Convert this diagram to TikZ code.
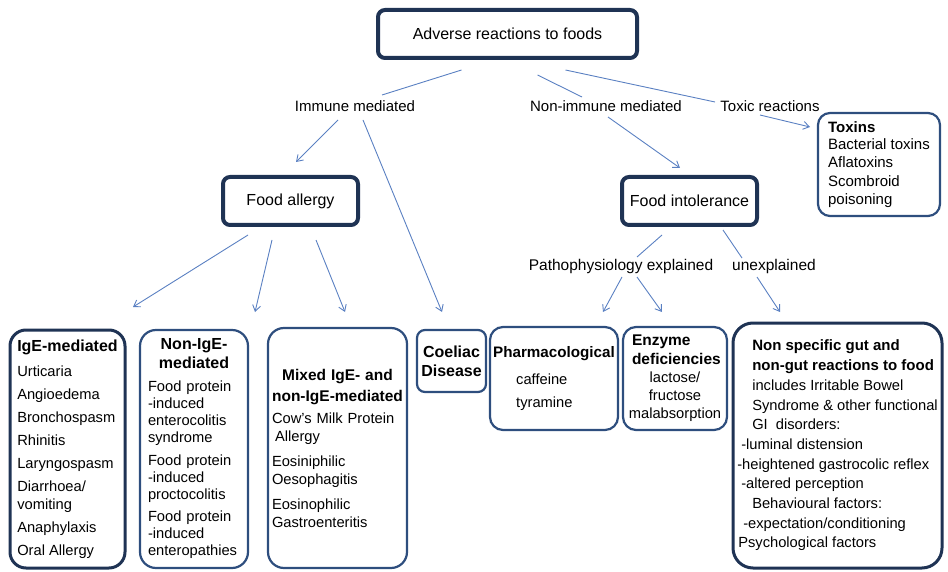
\documentclass[tikz,border=0pt]{standalone}
\usepackage{fontspec}
\setmainfont{Liberation Sans}
\usepackage{tikz}
\usetikzlibrary{arrows.meta, calc}

\definecolor{navyline}{HTML}{1F3354}
\definecolor{boxline}{HTML}{2E4E7E}
\definecolor{arrowblue}{HTML}{5A80C2}

\newcommand{\bodysize}{\fontsize{14.7}{18}\selectfont}
\newcommand{\headsize}{\fontsize{16}{19}\selectfont\bfseries}
\hyphenpenalty=10000
\exhyphenpenalty=10000

\begin{document}
\begin{tikzpicture}[
    x=1pt, y=-1pt,
    mainbox/.style = {draw=navyline, line width=4pt, rounded corners=7pt,
                      inner sep=0pt, font=\fontsize{16}{19}\selectfont},
    catbox/.style  = {draw=boxline, line width=2.2pt, rounded corners=16pt,
                      inner sep=0pt, align=left, font=\bodysize},
    darkbox/.style = {catbox, draw=navyline, line width=3pt},
    branch/.style  = {inner sep=0pt, text height=11pt, text depth=3pt,
                      font=\fontsize{15}{18}\selectfont},
    link/.style    = {draw=arrowblue, line width=0.9pt},
    arrow/.style   = {link, -{Straight Barb[length=6pt, width=8pt]}},
  ]
  \useasboundingbox (0,0) rectangle (948,572);

  % Top
  \node[mainbox, minimum width=259pt, minimum height=48pt]
    (top) at (507.5,34) {Adverse reactions to foods};

  % Branch labels
  \node[branch] (immune) at (355,108) {Immune mediated};
  \node[branch] (nonimm) at (606,108) {Non-immune mediated};
  \node[branch] (toxic)  at (770,108) {Toxic reactions};

  % Toxins
  \node[catbox, rounded corners=12pt, minimum width=122pt, minimum height=103pt,
        font=\fontsize{15}{17.5}\selectfont]
    (toxins) at (879,164.5) {{\bfseries Toxins}\\Bacterial toxins\\Aflatoxins\\[2pt]
                             Scombroid\\poisoning};

  % Second level
  \node[mainbox, minimum width=135pt, minimum height=48pt]
    (allergy) at (290.5,201) {Food allergy};
  \node[mainbox, minimum width=135pt, minimum height=48pt]
    (intol) at (689.5,201) {Food intolerance};

  \node[branch, font=\fontsize{15.5}{18}\selectfont]
    (pathexp) at (621,267) {Pathophysiology explained};
  \node[branch, font=\fontsize{15.5}{18}\selectfont]
    (unexp) at (774,267) {unexplained};

  % Bottom row, immune side
  \node[darkbox, minimum width=115pt, minimum height=238pt]
    (ige) at (67.5,449) {{\headsize IgE-mediated}\\[7pt]
      Urticaria\\[5pt]Angioedema\\[5pt]Bronchospasm\\[5pt]Rhinitis\\[5pt]
      Laryngospasm\\[5pt]Diarrhoea/\\vomiting\\[5pt]Anaphylaxis\\[5pt]Oral Allergy};

  \node[catbox, minimum width=108pt, minimum height=238pt, text width=92pt,
        font=\fontsize{14.7}{17}\selectfont]
    (nonige) at (194,449) {{\centering\headsize Non-IgE-\\mediated\par}\vspace{6pt}
      Food protein\\-induced\\enterocolitis\\syndrome\\[6pt]
      Food protein\\-induced\\proctocolitis\\[5pt]
      Food protein\\-induced\\enteropathies};

  \node[catbox, minimum width=139pt, minimum height=240pt, text width=135pt,
        font=\fontsize{14.7}{17.5}\selectfont]
    (mixed) at (337.5,448) {{\centering\bfseries\fontsize{15.5}{21}\selectfont
        Mixed IgE- and\\non-IgE-mediated\par}\vspace{5pt}
      \hspace*{2pt}Cow's Milk Protein\\\hspace*{5pt}Allergy\\[8pt]
      \hspace*{2pt}Eosiniphilic\\\hspace*{2pt}Oesophagitis\\[8pt]
      \hspace*{2pt}Eosinophilic\\\hspace*{2pt}Gastroenteritis};

  \node[catbox, rounded corners=8pt, minimum width=69pt, minimum height=62pt,
        align=center, font=\headsize]
    (coeliac) at (451.5,361) {Coeliac\\Disease};

  % Bottom row, intolerance side
  \node[catbox, rounded corners=13pt, minimum width=128pt, minimum height=103pt]
    (pharm) at (554,378.5) {{\bfseries\fontsize{15.2}{18}\selectfont Pharmacological}\\[9pt]
      \hspace*{23pt}caffeine\\[5pt]\hspace*{23pt}tyramine};

  \node[catbox, rounded corners=13pt, minimum width=104pt, minimum height=103pt,
        text width=96pt]
    (enzyme) at (675,378.5) {{\raggedright\bfseries\fontsize{15.5}{19}\selectfont
        \hspace*{5pt}Enzyme\\\hspace*{5pt}deficiencies\par}
      {\centering lactose/\\fructose\\malabsorption\par}};

  \node[darkbox, rounded corners=20pt, minimum width=209pt, minimum height=245pt,
        font=\fontsize{14.7}{19.7}\selectfont]
    (nonspec) at (837.5,445.5) {%
      \hspace*{15pt}{\bfseries\fontsize{15}{19.7}\selectfont Non specific gut and}\\
      \hspace*{15pt}{\bfseries\fontsize{15}{19.7}\selectfont non-gut reactions to food}\\
      \hspace*{15pt}includes Irritable Bowel\\
      \hspace*{15pt}Syndrome \& other functional\\
      \hspace*{15pt}GI\ \ disorders:\\
      \hspace*{4pt}-luminal distension\\
      -heightened gastrocolic reflex\hspace*{9pt}\\
      \hspace*{4pt}-altered perception\\
      \hspace*{15pt}Behavioural factors:\\
      \hspace*{6pt}-expectation/conditioning\\
      \hspace*{1pt}Psychological factors};

  % Lines from the top box
  \draw[link] ($(top.south)+(-46,10)$) -- ($(immune)+(27,-13)$);
  \draw[link] ($(top.south)+(30,15)$) -- ($(nonimm)+(-24,-11)$);
  \draw[link] ($(top.south)+(58,10)$) -- ($(toxic)+(-55,-6)$);
  \draw[arrow] ($(toxic)+(-10,7)$) -- ($(toxins)+(-69,-37.5)$);

  % Immune mediated
  \draw[arrow] ($(immune)+(-17,12)$) -- ($(allergy)+(5.5,-39)$);
  \draw[arrow] ($(immune)+(8,12)$) -- ($(coeliac)+(-9.5,-49)$);

  % Food allergy
  \draw[arrow] ($(allergy)+(-42.5,34)$) -- ($(ige)+(65.5,-142)$);
  \draw[arrow] ($(allergy)+(-18.5,39)$) -- ($(nonige)+(61,-137)$);
  \draw[arrow] ($(allergy)+(25.5,39)$) -- ($(mixed)+(7.5,-136)$);

  % Non-immune mediated
  \draw[arrow] ($(nonimm)+(2,9)$) -- ($(intol)+(-9.5,-33)$);
  \draw[link] ($(intol)+(-27.5,34)$) -- ($(pathexp)+(16,-10)$);
  \draw[link] ($(intol)+(33.5,29)$) -- ($(unexp)+(-32,-9)$);

  % Food intolerance
  \draw[arrow] ($(pathexp)+(1,10)$) -- ($(pharm)+(49,-66.5)$);
  \draw[arrow] ($(pathexp)+(16,10)$) -- ($(enzyme)+(-13,-66.5)$);
  \draw[arrow] ($(unexp)+(-17,10)$) -- ($(nonspec)+(-57.5,-133.5)$);
\end{tikzpicture}
\end{document}
